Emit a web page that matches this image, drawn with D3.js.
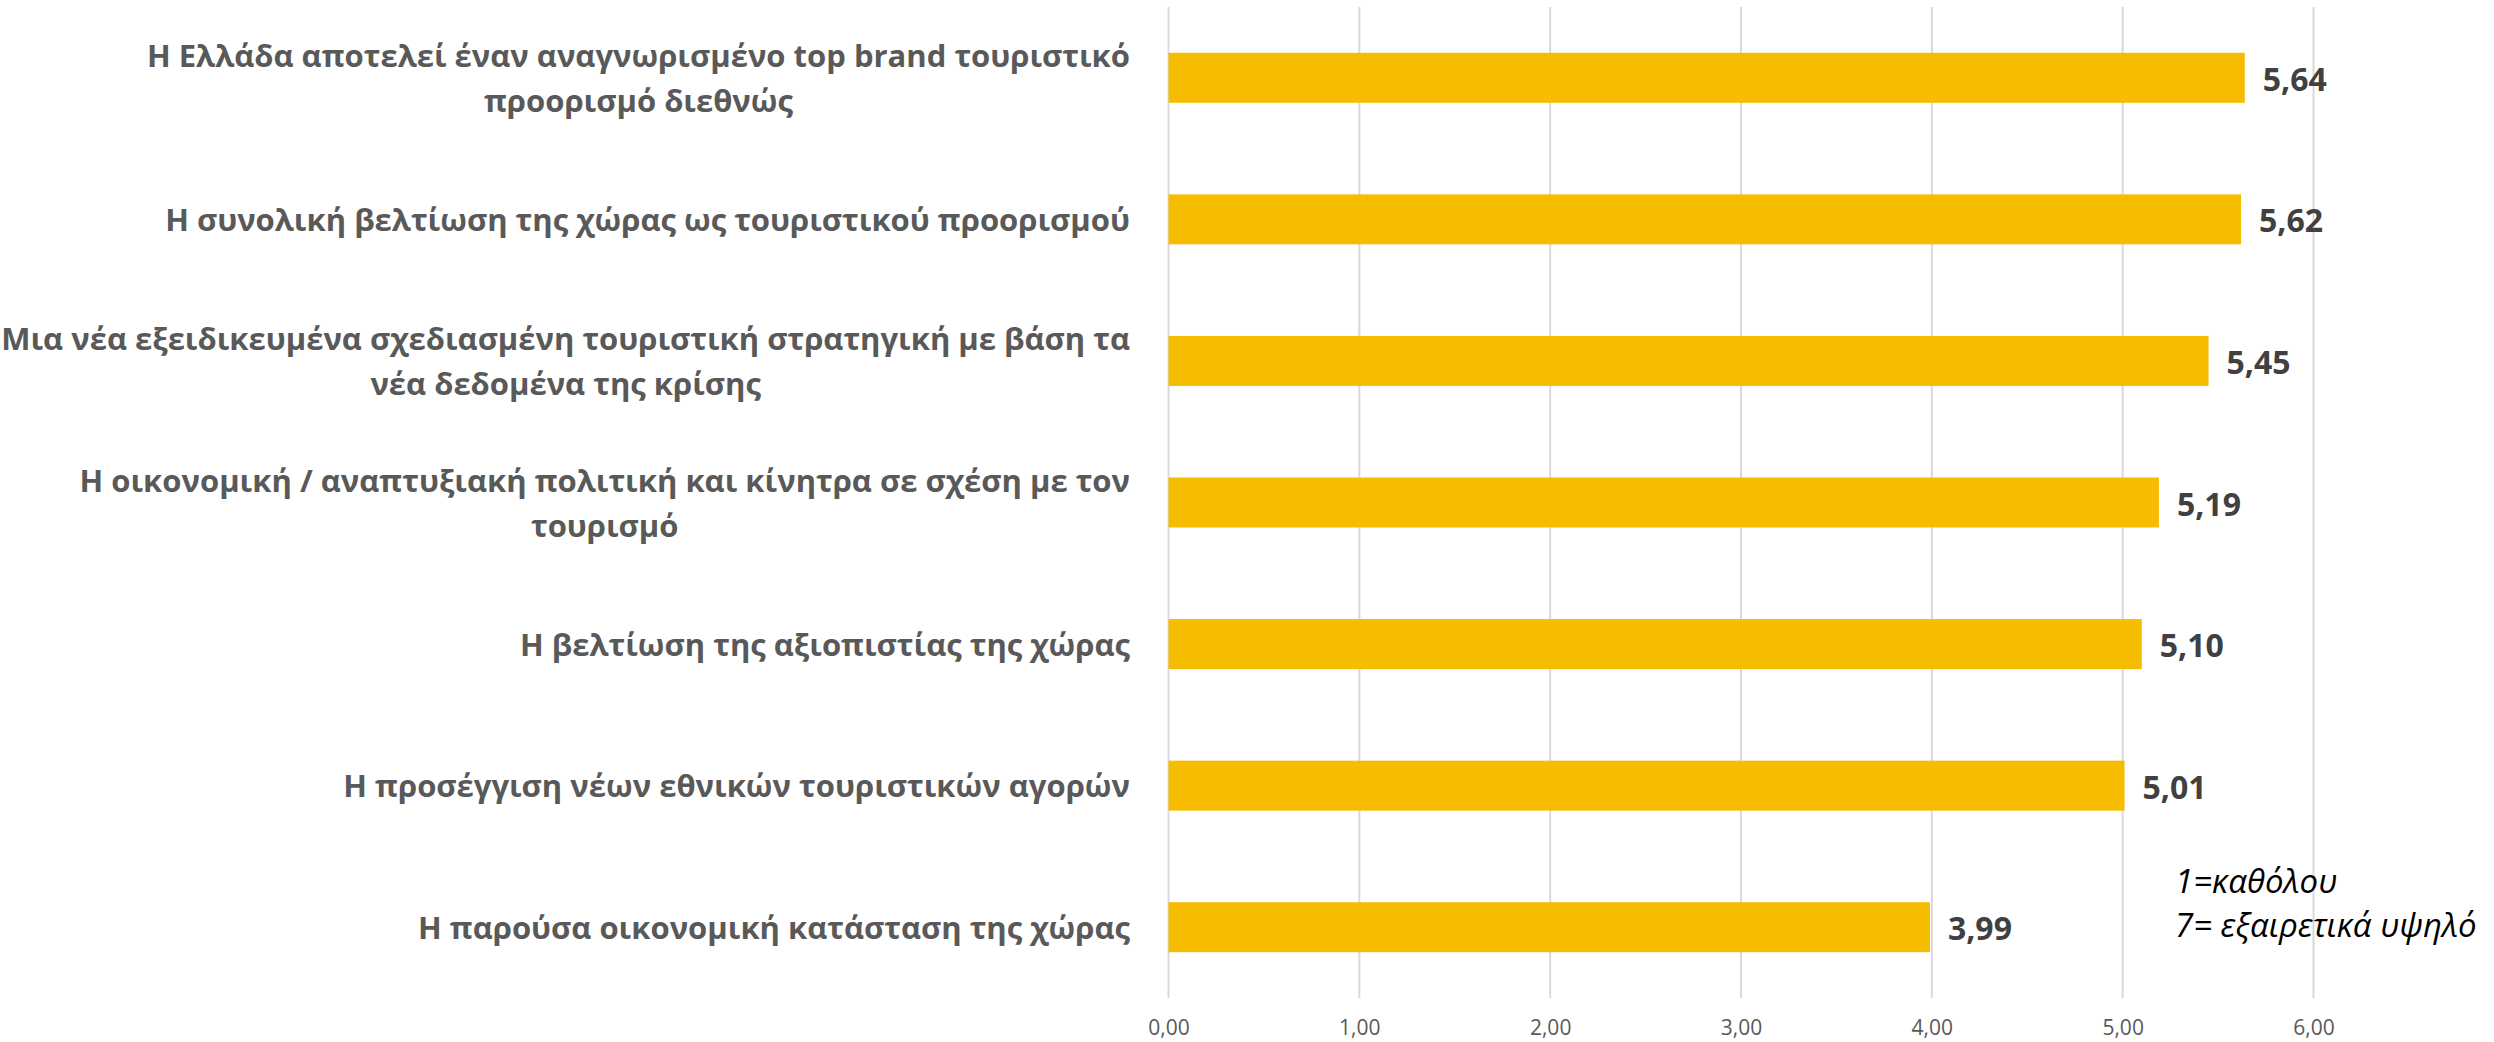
<!DOCTYPE html>
<html>
<head>
<meta charset="utf-8">
<script src="https://cdn.jsdelivr.net/npm/d3@7"></script>
<style>
  html, body { margin: 0; padding: 0; background: #fff; }
  svg { display: block; }
  text { font-family: "Open Sans", "Noto Sans", sans-serif; }
</style>
</head>
<body>
<svg id="chart" width="2494" height="1042"></svg>
<script>
const categories = [
  "Η Ελλάδα αποτελεί έναν αναγνωρισμένο top brand τουριστικό\nπροορισμό διεθνώς",
  "Η συνολική βελτίωση της χώρας ως τουριστικού προορισμού",
  "Μια νέα εξειδικευμένα σχεδιασμένη τουριστική στρατηγική με βάση τα\nνέα δεδομένα της κρίσης",
  "Η οικονομική / αναπτυξιακή πολιτική και κίνητρα σε σχέση με τον\nτουρισμό",
  "Η βελτίωση της αξιοπιστίας της χώρας",
  "Η προσέγγιση νέων εθνικών τουριστικών αγορών",
  "Η παρούσα οικονομική κατάσταση της χώρας"
];
const values = [5.64, 5.62, 5.45, 5.19, 5.10, 5.01, 3.99];
const tickValues = [0, 1, 2, 3, 4, 5, 6];
const noteLines = ["1=καθόλου", "7= εξαιρετικά υψηλό"];

const fmt = v => v.toFixed(2).replace(".", ",");

const svg = d3.select("#chart");
const plotLeft = 1168.5, plotTop = 7, plotBottom = 998;

const x = d3.scaleLinear().domain([0, 6]).range([plotLeft, 2313.5]);
const p = 0.647;
const y = d3.scaleBand().domain(categories).range([plotTop, plotBottom])
  .paddingInner(p).paddingOuter(p / 2);

// gridlines
svg.append("g").selectAll("line").data(tickValues).join("line")
  .attr("x1", d => x(d)).attr("x2", d => x(d))
  .attr("y1", plotTop).attr("y2", plotBottom)
  .attr("stroke", "#d9d9d9").attr("stroke-width", 2);

// x axis tick labels
const xAxis = d3.axisBottom(x).tickValues(tickValues).tickFormat(fmt).tickSize(0).tickPadding(0);
const gx = svg.append("g").attr("transform", `translate(0, 1015)`).call(xAxis);
gx.select(".domain").remove();
gx.selectAll("text")
  .attr("dy", null).attr("y", 20)
  .style("font-family", "'Open Sans', sans-serif")
  .style("font-size", "21px").attr("fill", "#595959");

// bars
svg.append("g").selectAll("rect").data(values).join("rect")
  .attr("x", x(0))
  .attr("y", (d, i) => y(categories[i]))
  .attr("width", d => x(d) - x(0))
  .attr("height", y.bandwidth())
  .attr("fill", "#f6bc00");

// value labels
svg.append("g").selectAll("text").data(values).join("text")
  .attr("x", d => x(d) + 18)
  .attr("y", (d, i) => y(categories[i]) + y.bandwidth() / 2 + 13)
  .attr("font-size", 32).attr("font-weight", 700).attr("fill", "#404040")
  .text(fmt);

// category labels
const labelRight = 1130, lineH = 45;
const gl = svg.append("g");
categories.forEach(c => {
  const lines = c.split("\n");
  const cy = y(c) + y.bandwidth() / 2;
  const t = gl.append("text")
    .attr("font-size", 31).attr("font-weight", 700).attr("fill", "#595959");
  const spans = lines.map((ln, j) => t.append("tspan")
    .attr("y", cy + 11.5 + (j - (lines.length - 1) / 2) * lineH)
    .text(ln));
  const maxW = d3.max(spans, s => s.node().getComputedTextLength());
  spans.forEach(s => s.attr("x", labelRight - maxW / 2).attr("text-anchor", "middle"));
});

// note
const gn = svg.append("text").attr("font-size", 33).attr("font-style", "italic").attr("fill", "#000");
noteLines.forEach((ln, j) => gn.append("tspan").attr("x", 2175).attr("y", 893 + j * 44).text(ln));
</script>
</body>
</html>
